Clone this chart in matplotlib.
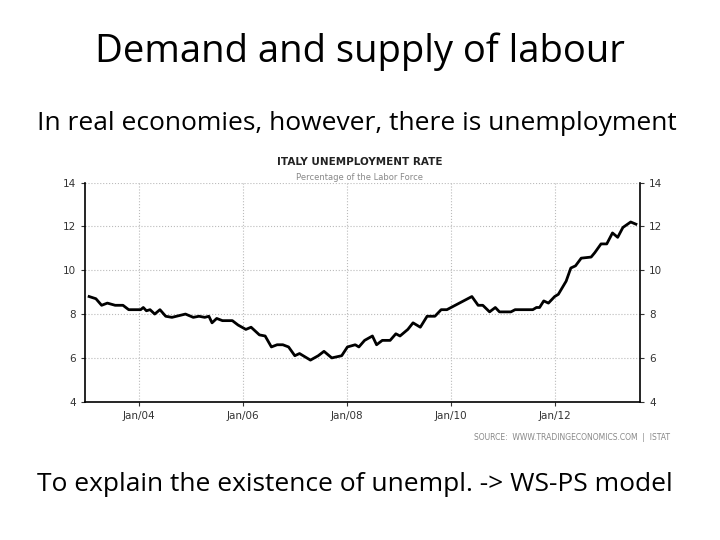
import matplotlib
matplotlib.use('Agg')
import matplotlib.pyplot as plt

# Italy unemployment rate (decimal year, %)
years = [2003.05, 2003.18, 2003.29, 2003.40, 2003.55, 2003.70, 2003.81, 2004.04, 2004.09,
         2004.15, 2004.22, 2004.31, 2004.41, 2004.52, 2004.64, 2004.90, 2005.05, 2005.16,
         2005.27, 2005.35, 2005.41, 2005.50, 2005.61, 2005.80, 2005.91, 2006.06, 2006.16,
         2006.32, 2006.43, 2006.55, 2006.66, 2006.77, 2006.88, 2007.00, 2007.09, 2007.30,
         2007.45, 2007.56, 2007.71, 2007.90, 2008.01, 2008.16, 2008.23, 2008.34, 2008.49,
         2008.57, 2008.68, 2008.83, 2008.94, 2009.02, 2009.17, 2009.27, 2009.41, 2009.54,
         2009.69, 2009.81, 2009.92, 2010.40, 2010.52, 2010.61, 2010.74, 2010.85, 2010.93,
         2011.15, 2011.23, 2011.57, 2011.64, 2011.70, 2011.78, 2011.87, 2011.99, 2012.06,
         2012.21, 2012.30, 2012.39, 2012.50, 2012.69, 2012.76, 2012.88, 2012.99, 2013.10,
         2013.20, 2013.30, 2013.45, 2013.55]
rate = [8.8, 8.7, 8.4, 8.5, 8.4, 8.4, 8.2, 8.2, 8.3,
        8.15, 8.2, 8.0, 8.2, 7.9, 7.85, 8.0, 7.85, 7.9,
        7.85, 7.9, 7.6, 7.8, 7.7, 7.7, 7.5, 7.3, 7.4,
        7.05, 7.0, 6.5, 6.6, 6.6, 6.5, 6.1, 6.2, 5.9,
        6.1, 6.3, 6.0, 6.1, 6.5, 6.6, 6.5, 6.8, 7.0,
        6.6, 6.8, 6.8, 7.1, 7.0, 7.3, 7.6, 7.4, 7.9,
        7.9, 8.2, 8.2, 8.8, 8.4, 8.4, 8.1, 8.3, 8.1,
        8.1, 8.2, 8.2, 8.3, 8.3, 8.6, 8.5, 8.8, 8.9,
        9.5, 10.1, 10.2, 10.55, 10.6, 10.8, 11.2, 11.2, 11.7,
        11.5, 11.95, 12.2, 12.1]

tick_pos = [2004, 2006, 2008, 2010, 2012]
tick_labels = ['Jan/04', 'Jan/06', 'Jan/08', 'Jan/10', 'Jan/12']
y_ticks = [4, 6, 8, 10, 12, 14]

fig = plt.figure(figsize=(7.2, 5.4), dpi=100)
fig.patch.set_facecolor('white')

fig.text(0.5, 0.905, 'Demand and supply of labour', ha='center', va='center',
         fontsize=27.5, family='Open Sans')
fig.text(0.052, 0.772, 'In real economies, however, there is unemployment', ha='left',
         va='center', fontsize=19, family='Open Sans')
fig.text(0.052, 0.102, 'To explain the existence of unempl. -> WS-PS model', ha='left',
         va='center', fontsize=19, family='Open Sans')

ax = fig.add_axes([0.118, 0.256, 0.771, 0.406])
ax.plot(years, rate, color='black', lw=2)
ax.set_xlim(2002.97, 2013.63)
ax.set_ylim(4, 14)
ax.set_xticks(tick_pos)
ax.set_xticklabels(tick_labels)
ax.set_yticks(y_ticks)
ax.grid(True, color='#bbbbbb', ls=':', lw=0.8)
ax.tick_params(labelsize=7.5, colors='#333333', length=3, right=True, labelright=True)
ax.spines['top'].set_visible(False)
for s in ['left', 'right', 'bottom']:
    ax.spines[s].set_linewidth(1.2)

fig.text(0.5, 0.70, 'ITALY UNEMPLOYMENT RATE', ha='center', va='center',
         fontsize=7.5, fontweight='bold', color='#222222')
fig.text(0.5, 0.672, 'Percentage of the Labor Force', ha='center', va='center',
         fontsize=6, color='#888888')
fig.text(0.93, 0.189, 'SOURCE:  WWW.TRADINGECONOMICS.COM  |  ISTAT', ha='right',
         va='center', fontsize=5.5, color='#888888')

fig.savefig('out.png', dpi=100)
